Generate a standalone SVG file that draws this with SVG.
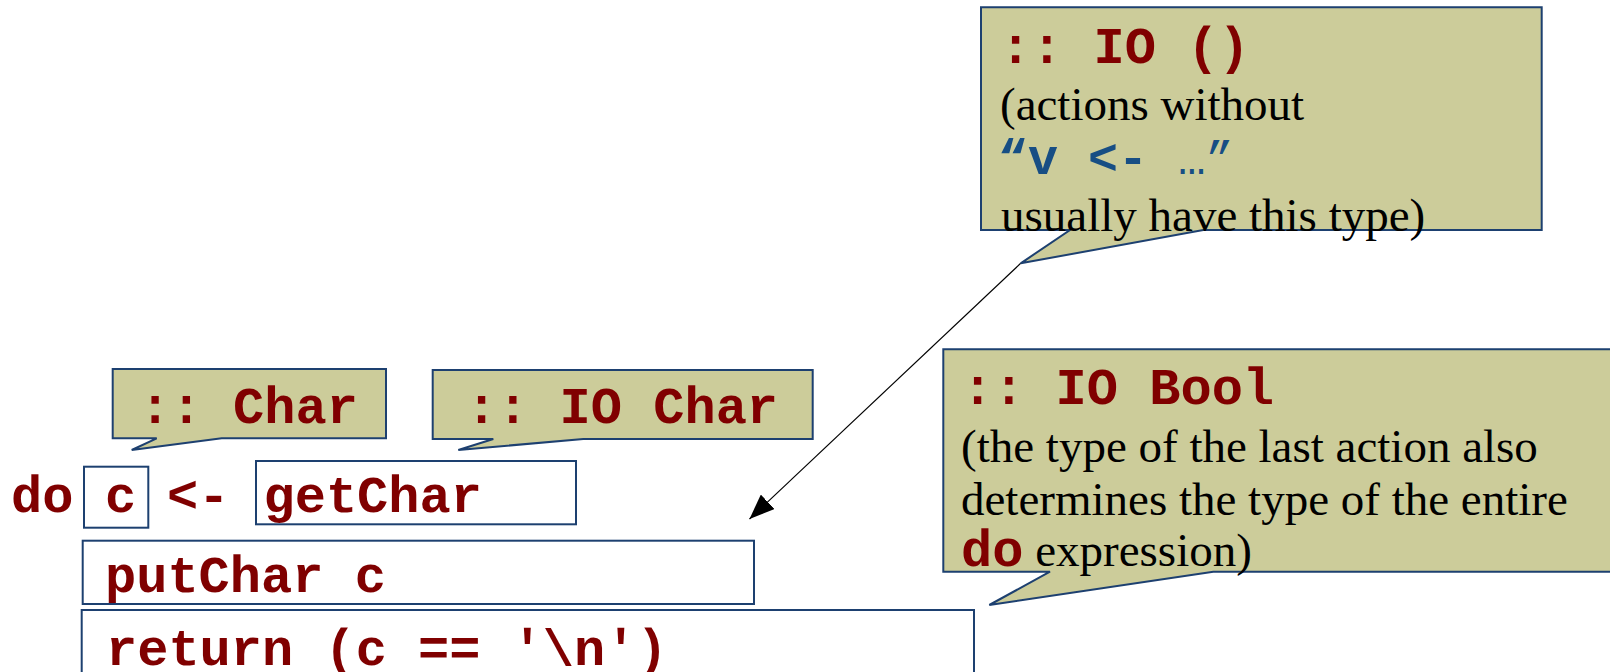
<svg xmlns="http://www.w3.org/2000/svg" width="1610" height="672" viewBox="0 0 1610 672">
<style>
.callout{fill:#CCCC9A;stroke:#1D4070;stroke-width:2;stroke-linejoin:miter}
.box{fill:none;stroke:#1D4070;stroke-width:2}
.code{font-family:"Liberation Mono","Courier New",monospace;font-weight:bold;font-size:52px;fill:#800000}
.serif{font-family:"Liberation Serif","Times New Roman",serif;font-size:47px;fill:#000}
.blue{font-family:"Liberation Mono","Courier New",monospace;font-weight:bold;font-size:50px;fill:#174E84}
.conn{stroke:#000;stroke-width:1.2;fill:none}
</style>
<defs>
<marker id="arrow" viewBox="0 0 25 20" refX="25" refY="10" markerWidth="25" markerHeight="20" markerUnits="userSpaceOnUse" orient="auto">
<path d="M0,0 L25,10 L0,20 Z" fill="#000"/>
</marker>
</defs>
<rect x="0" y="0" width="1610" height="672" fill="#fff"/>

<g id="connectors">
<line class="conn" x1="1020.7" y1="263.3" x2="749.5" y2="519" marker-end="url(#arrow)"/>
</g>

<g id="callout-io-unit">
<path class="callout" d="M981,7.3 H1541.7 V230 H1203.3 L1020.7,263.3 L1070,230 H981 Z"/>
<text class="code" x="1000" y="63" xml:space="preserve">:: IO ()</text>
<text class="serif" x="1000" y="120">(actions without</text>
<text class="blue" x="998" y="174" xml:space="preserve">“v &lt;- <tspan font-weight="normal" font-size="46">…”</tspan></text>
<text class="serif" x="1001" y="231">usually have this type)</text>
</g>

<g id="callout-io-bool">
<path class="callout" d="M943.3,349.3 H1620 V571.7 H1213.3 L989.3,605 L1050,571.7 H943.3 Z"/>
<text class="code" x="962" y="404" xml:space="preserve">:: IO Bool</text>
<text class="serif" x="961" y="462">(the type of the last action also</text>
<text class="serif" x="961" y="515">determines the type of the entire</text>
<text class="serif" x="961" y="566"><tspan class="code">do</tspan> expression)</text>
</g>

<g id="callout-char">
<path class="callout" d="M112.7,369 H386 V438.3 H221.7 L131.7,450 L156.7,438.3 H112.7 Z"/>
<text class="code" x="139.5" y="423" xml:space="preserve">:: Char</text>
</g>

<g id="callout-io-char">
<path class="callout" d="M432.7,370 H812.7 V439 H583.3 L458.3,450 L493.3,439 H432.7 Z"/>
<text class="code" x="466" y="423" xml:space="preserve">:: IO Char</text>
</g>

<g id="do-keyword">
<text class="code" x="11" y="512">do</text>
</g>

<g id="var-c">
<rect class="box" x="84" y="466.7" width="64.3" height="61"/>
<text class="code" x="105" y="512">c</text>
</g>

<g id="bind-arrow">
<text class="code" x="167" y="512">&lt;-</text>
</g>

<g id="getchar">
<rect class="box" x="256" y="461" width="320" height="63.3"/>
<text class="code" x="263.5" y="512">getChar</text>
</g>

<g id="putchar">
<rect class="box" x="82.7" y="540.7" width="671.3" height="63.3"/>
<text class="code" x="105" y="592" xml:space="preserve">putChar c</text>
</g>

<g id="return">
<rect class="box" x="81.7" y="610" width="892.3" height="80"/>
<text class="code" x="106" y="665" xml:space="preserve">return (c == '\n')</text>
</g>
</svg>
